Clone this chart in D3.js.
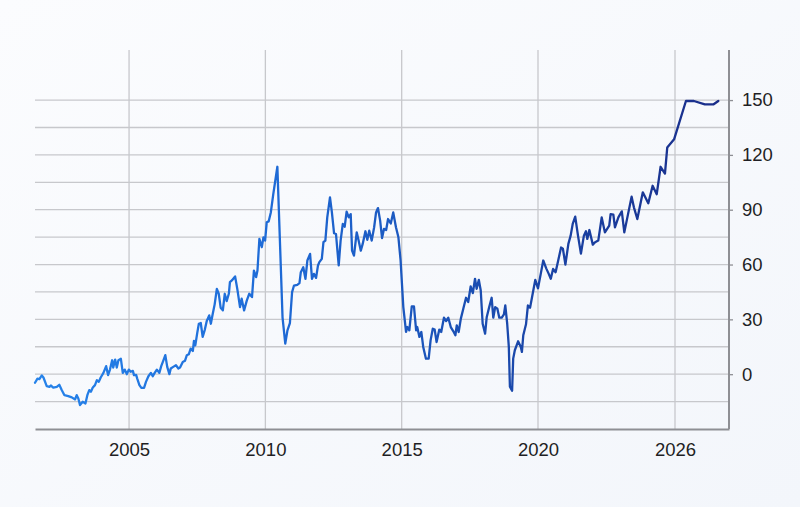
<!DOCTYPE html>
<html>
<head>
<meta charset="utf-8">
<script src="https://cdn.jsdelivr.net/npm/d3@7"></script>
<style>
  html, body { margin: 0; padding: 0; }
  body { width: 800px; height: 507px; overflow: hidden; background: #f8f9fc; }
  svg { display: block; }
</style>
</head>
<body>
<div id="chart"></div>
<script>
(function () {
  'use strict';

  // decimal years
  var years = [
    2001.55, 2001.64, 2001.71, 2001.80, 2001.86, 2001.98, 2002.08, 2002.13, 2002.22, 2002.35,
    2002.44, 2002.53, 2002.63, 2002.77, 2002.90, 2003.02, 2003.08, 2003.14, 2003.20, 2003.30,
    2003.40, 2003.47, 2003.54, 2003.60, 2003.67, 2003.75, 2003.82, 2003.89, 2003.96, 2004.06,
    2004.16, 2004.23, 2004.30, 2004.38, 2004.42, 2004.49, 2004.55, 2004.61, 2004.70, 2004.77,
    2004.84, 2004.92, 2004.99, 2005.06, 2005.14, 2005.18, 2005.26, 2005.30, 2005.38, 2005.45,
    2005.55, 2005.62, 2005.71, 2005.80, 2005.87, 2005.94, 2006.02, 2006.11, 2006.18, 2006.26,
    2006.33, 2006.40, 2006.48, 2006.53, 2006.62, 2006.72, 2006.81, 2006.87, 2006.97, 2007.05,
    2007.12, 2007.19, 2007.26, 2007.34, 2007.38, 2007.43, 2007.50, 2007.56, 2007.63, 2007.70,
    2007.78, 2007.85, 2007.94, 2008.00, 2008.07, 2008.14, 2008.22, 2008.29, 2008.36, 2008.44,
    2008.51, 2008.58, 2008.66, 2008.70, 2008.77, 2008.89, 2008.97, 2009.07, 2009.13, 2009.22,
    2009.32, 2009.41, 2009.51, 2009.58, 2009.66, 2009.71, 2009.78, 2009.87, 2009.93, 2009.99,
    2010.05, 2010.12, 2010.20, 2010.29, 2010.44, 2010.63, 2010.73, 2010.81, 2010.90, 2010.98,
    2011.05, 2011.17, 2011.25, 2011.30, 2011.39, 2011.47, 2011.54, 2011.64, 2011.71, 2011.78,
    2011.86, 2011.93, 2011.98, 2012.07, 2012.13, 2012.20, 2012.27, 2012.37, 2012.44, 2012.52,
    2012.59, 2012.69, 2012.76, 2012.84, 2012.91, 2012.98, 2013.06, 2013.13, 2013.18, 2013.25,
    2013.35, 2013.42, 2013.50, 2013.57, 2013.67, 2013.74, 2013.81, 2013.90, 2013.99, 2014.06,
    2014.13, 2014.21, 2014.28, 2014.35, 2014.43, 2014.50, 2014.60, 2014.69, 2014.79, 2014.88,
    2014.96, 2015.06, 2015.16, 2015.21, 2015.28, 2015.37, 2015.45, 2015.53, 2015.57, 2015.65,
    2015.72, 2015.79, 2015.89, 2015.99, 2016.06, 2016.14, 2016.21, 2016.28, 2016.38, 2016.45,
    2016.55, 2016.63, 2016.71, 2016.80, 2016.89, 2016.97, 2017.02, 2017.09, 2017.17, 2017.26,
    2017.36, 2017.44, 2017.53, 2017.61, 2017.69, 2017.75, 2017.83, 2017.90, 2017.97, 2018.06,
    2018.12, 2018.21, 2018.30, 2018.36, 2018.43, 2018.51, 2018.58, 2018.67, 2018.75, 2018.80,
    2018.87, 2018.93, 2018.97, 2019.05, 2019.09, 2019.15, 2019.27, 2019.37, 2019.41, 2019.46,
    2019.56, 2019.63, 2019.71, 2019.81, 2019.90, 2020.00, 2020.12, 2020.23, 2020.36, 2020.47,
    2020.56, 2020.66, 2020.77, 2020.88, 2021.01, 2021.09, 2021.20, 2021.33, 2021.43, 2021.52,
    2021.63, 2021.75, 2021.88, 2022.01, 2022.10, 2022.16, 2022.25, 2022.40, 2022.50, 2022.64,
    2022.79, 2022.93, 2023.12, 2023.18, 2023.30, 2023.37, 2023.52, 2023.67, 2023.78, 2023.95,
    2024.10, 2024.20, 2024.35, 2024.59, 2024.83, 2025.02, 2025.20, 2025.37, 2025.56, 2025.66,
    2025.96, 2026.48, 2026.83, 2027.31, 2027.68, 2027.90
  ];

  var values = [
    -4.7, -2.4, -2.7, -0.7, -1.8, -6.5, -6.9, -6.2, -7.3, -6.9,
    -5.8, -8.7, -11.5, -12, -12.7, -13.8, -11.5, -13.3, -16.9, -15.1,
    -16, -11.5, -8.7, -9.6, -7.3, -6, -3.3, -4.2, -1.8, 0.7,
    4.4, -0.5, 2.5, 7.6, 3.6, 8, 3.6, 7.6, 8.4, 0.7,
    2.5, 0, 2.5, 1.3, 1.8, -0.5, -0.4, -2.4, -6, -7.5,
    -7.5, -4.2, -1.1, 0.7, -1.1, 0.7, 2.5, 0.7, 4.4, 7.6,
    10.4, 4, 0, 3.1, 4, 4.9, 3.1, 3.6, 6.7, 7.3,
    10.4, 10.9, 14, 12.7, 18.2, 15.8, 22.5, 27.6, 28, 20.4,
    24.4, 29.1, 32.2, 27.6, 33.1, 38.2, 46.7, 44, 36.4, 34.9,
    44, 40, 44, 50.4, 51.3, 53.5, 46.7, 36.7, 41.3, 34.9,
    40.4, 44, 42.2, 56.7, 53.1, 56.7, 74, 69.5, 74.9, 73.1,
    83.1, 83.6, 88.5, 98.5, 113.5, 31, 16.7, 24, 28, 44.9,
    48.5, 48.9, 49.8, 55.8, 58.5, 52.2, 62.2, 65.8, 52.2, 54.9,
    52.7, 59.5, 61.3, 63.1, 72.2, 73.1, 85.8, 96.7, 88.5, 77.1,
    76.7, 59.5, 73.1, 82.2, 80.7, 88.9, 85.8, 87.6, 67.6, 64.9,
    77.6, 73.1, 67.6, 71.3, 78.2, 73.5, 78.5, 73.1, 80.4, 88.5,
    90.9, 84, 74.5, 79.5, 78.9, 84.9, 82.5, 88.5, 80.4, 74.9,
    62.2, 36.7, 23.1, 25.8, 24, 37.1, 37.1, 24, 25.8, 20.4,
    23.1, 14.9, 8.5, 8.5, 18.5, 24.9, 24.4, 17.6, 24.4, 23.1,
    30.9, 29.1, 30.9, 25.8, 23.6, 21.3, 26.7, 23.1, 30.4, 35.8,
    41.8, 39.5, 48, 44.4, 52.2, 46.7, 51.6, 45.8, 27.6, 22.2,
    31.3, 36.7, 41.8, 30.9, 36.7, 35.8, 30.9, 30.9, 32.7, 37.6,
    27.6, 14.9, -6.9, -9.1, 8.5, 13.1, 18, 14.9, 12.2, 21.3,
    27.3, 37.6, 36.4, 44.4, 51.6, 47, 54.9, 62.2, 57.9, 54.9,
    52.2, 57.6, 55.8, 62, 69.3, 68.7, 60, 71.3, 75.8, 82.2,
    86.2, 76, 66, 75.8, 78.2, 74, 78.9, 70.9, 72.2, 73.1,
    85.8, 77.6, 81.3, 87.6, 87.3, 80.4, 85.8, 89.1, 77.6, 88,
    97.1, 91.3, 84.9, 99.5, 93.5, 103.1, 98.5, 113.5, 109.8, 124,
    128.5, 149.5, 149.5, 147.6, 147.6, 149.5
  ];

  var xTickValues = [2005, 2010, 2015, 2020, 2026];
  var xTickLabels = ['2005', '2010', '2015', '2020', '2026'];
  var yGridValues = [-15, 0, 15, 30, 45, 60, 75, 90, 105, 120, 135, 150];
  var yTickValues = [0, 30, 60, 90, 120, 150];

  var width = 800, height = 507;
  var left = 35, right = 729, top = 50, bottom = 429;
  var font = '"Liberation Sans", Arial, Helvetica, sans-serif';

  var data = years.map(function (y, i) { return { year: y, value: values[i] }; });

  // the axis is stretched up to 2020 and tighter after it
  var x = d3.scaleLinear()
    .domain([2001.55, 2020, 2026, 2028.37])
    .range([left, 538, 675, right]);

  var y = d3.scaleLinear()
    .domain([-30, 177.4])
    .range([bottom, top]);

  var svg = d3.select('#chart')
    .append('svg')
    .attr('width', width)
    .attr('height', height);

  var defs = svg.append('defs');

  var bg = defs.append('linearGradient')
    .attr('id', 'bg')
    .attr('x1', '0').attr('y1', '0')
    .attr('x2', '1').attr('y2', '1');
  bg.append('stop').attr('offset', '0%').attr('stop-color', '#fbfcfe');
  bg.append('stop').attr('offset', '100%').attr('stop-color', '#f3f6fb');

  var lineGrad = defs.append('linearGradient')
    .attr('id', 'lineGrad')
    .attr('gradientUnits', 'userSpaceOnUse')
    .attr('x1', left).attr('y1', 0)
    .attr('x2', right).attr('y2', 0);
  lineGrad.append('stop').attr('offset', '0%').attr('stop-color', '#2683ea');
  lineGrad.append('stop').attr('offset', '35%').attr('stop-color', '#1e6ad6');
  lineGrad.append('stop').attr('offset', '65%').attr('stop-color', '#1a4cb0');
  lineGrad.append('stop').attr('offset', '100%').attr('stop-color', '#1a2c88');

  svg.append('rect')
    .attr('width', width)
    .attr('height', height)
    .attr('fill', 'url(#bg)');

  // horizontal grid
  svg.append('g')
    .selectAll('line')
    .data(yGridValues)
    .enter()
    .append('line')
    .attr('x1', left)
    .attr('x2', right)
    .attr('y1', function (d) { return y(d); })
    .attr('y2', function (d) { return y(d); })
    .attr('stroke', '#c7c8cc')
    .attr('stroke-width', 1.3);

  // vertical grid
  svg.append('g')
    .selectAll('line')
    .data(xTickValues)
    .enter()
    .append('line')
    .attr('x1', function (d) { return x(d); })
    .attr('x2', function (d) { return x(d); })
    .attr('y1', top)
    .attr('y2', bottom)
    .attr('stroke', '#c7c8cc')
    .attr('stroke-width', 1.3);

  // bottom axis
  var xAxis = d3.axisBottom(x)
    .tickValues(xTickValues)
    .tickFormat(function (d, i) { return xTickLabels[i]; })
    .tickSize(0)
    .tickPadding(14);

  var gx = svg.append('g')
    .attr('transform', 'translate(0,' + bottom + ')')
    .call(xAxis);
  gx.select('.domain')
    .attr('stroke', '#8e8f94')
    .attr('stroke-width', 2);
  gx.selectAll('text')
    .attr('fill', '#1f1f24')
    .style('font-family', font)
    .style('font-size', '18.5px');

  // right axis
  var yAxis = d3.axisRight(y)
    .tickValues(yTickValues)
    .tickSize(4)
    .tickPadding(9);

  var gy = svg.append('g')
    .attr('transform', 'translate(' + right + ',0)')
    .call(yAxis);
  gy.select('.domain')
    .attr('stroke', '#8e8f94')
    .attr('stroke-width', 2)
    .attr('d', 'M0,' + top + 'V' + bottom);
  gy.selectAll('.tick line')
    .attr('stroke', '#8e8f94')
    .attr('stroke-width', 1.3);
  gy.selectAll('text')
    .attr('fill', '#1f1f24')
    .style('font-family', font)
    .style('font-size', '18.5px');

  var line = d3.line()
    .x(function (d) { return x(d.year); })
    .y(function (d) { return y(d.value); });

  svg.append('path')
    .datum(data)
    .attr('d', line)
    .attr('fill', 'none')
    .attr('stroke', 'url(#lineGrad)')
    .attr('stroke-width', 2.3)
    .attr('stroke-linejoin', 'round')
    .attr('stroke-linecap', 'round');
}());
</script>
</body>
</html>
